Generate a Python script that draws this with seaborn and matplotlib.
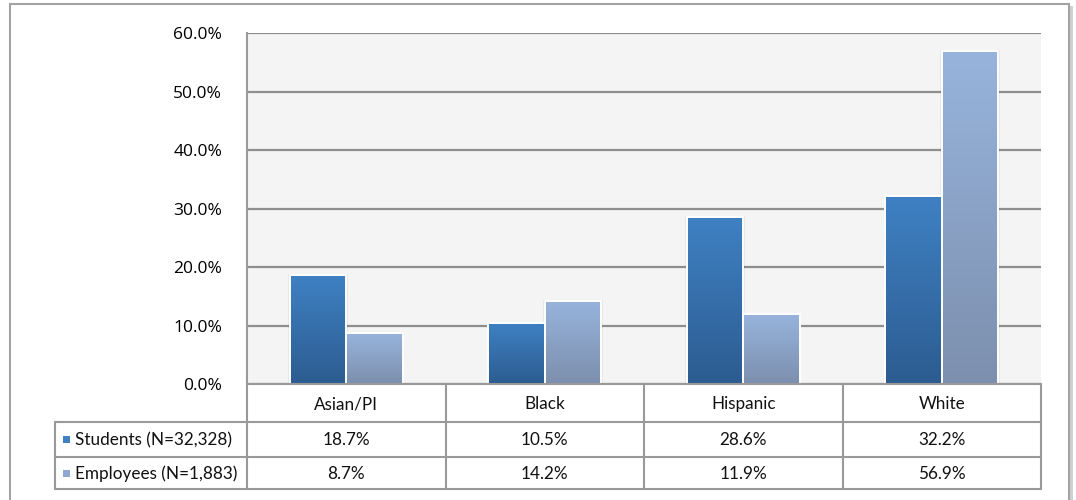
import numpy as np
import pandas as pd
import matplotlib
matplotlib.use("Agg")
import matplotlib.pyplot as plt
import matplotlib.transforms as mtransforms
from matplotlib.lines import Line2D
from matplotlib.patches import Rectangle
import seaborn as sns

# ---- data -------------------------------------------------------------
categories = ["Asian/PI", "Black", "Hispanic", "White"]
series_names = ["Students (N=32,328)", "Employees (N=1,883)"]
students = [18.7, 10.5, 28.6, 32.2]
employees = [8.7, 14.2, 11.9, 56.9]
y_ticks = [0, 10, 20, 30, 40, 50, 60]

df = pd.DataFrame({
    "category": categories * 2,
    "group": [series_names[0]] * 4 + [series_names[1]] * 4,
    "value": students + employees,
})

# ---- style ------------------------------------------------------------
sns.set_theme(style="white")
plt.rcParams["font.family"] = ["Open Sans", "DejaVu Sans"]
table_font = ["Lato", "DejaVu Sans"]

W, H = 1076, 500
fig = plt.figure(figsize=(W / 100, H / 100), dpi=100)
fig.patch.set_facecolor("white")


def fx(x):
    return x / W


def fy(y):
    return 1 - y / H


# plot region in pixel terms
L, R, T, B = 247, 1041, 33, 384
ax = fig.add_axes([fx(L), fy(B), fx(R) - fx(L), fy(T) - fy(B)])
ax.set_facecolor("#f4f4f4")

top_cols = ["#3f81c4", "#98b4dc"]
bot_cols = ["#2c5c90", "#7c8fae"]

sns.barplot(data=df, x="category", y="value", hue="group",
            hue_order=series_names, order=categories,
            palette=top_cols, saturation=1, width=0.57, gap=0,
            ax=ax, legend=False, zorder=3)

ax.set_xlim(-0.5, 3.5)
ax.set_ylim(0, 60)
ax.set_yticks(y_ticks)
ax.set_yticklabels([f"{t:.1f}%" for t in y_ticks], fontsize=12.5, color="#000000")
ax.tick_params(axis="y", length=0, pad=18)
ax.set_xticks([])
ax.set_xlabel("")
ax.set_ylabel("")
ax.yaxis.grid(True, color="#8e8e8e", linewidth=1.6, zorder=1)
ax.set_axisbelow(True)
for side in ["top", "right", "bottom"]:
    ax.spines[side].set_visible(False)
ax.spines["left"].set_color("#9a9a9a")
ax.spines["left"].set_linewidth(1.5)

# vertical gradients on each bar, clipped to the bar shape
for ci, cont in enumerate(ax.containers):
    c_top = np.array(matplotlib.colors.to_rgb(top_cols[ci]))
    c_bot = np.array(matplotlib.colors.to_rgb(bot_cols[ci]))
    for patch in cont.patches:
        x0, y0 = patch.get_x(), patch.get_y()
        w, h = patch.get_width(), patch.get_height()
        t = np.linspace(0, 1, 256)[:, None]
        grad = (c_top[None, :] * (1 - t) + c_bot[None, :] * t)[:, None, :]
        # faint shadow along the bar sides
        shadow = Rectangle((x0 - 0.008, y0), w + 0.016, h + 0.15,
                           facecolor="#000000", alpha=0.05,
                           edgecolor="none", zorder=2.5)
        ax.add_patch(shadow)
        im = ax.imshow(grad, extent=[x0, x0 + w, y0, y0 + h],
                       aspect="auto", origin="upper", zorder=3.5,
                       interpolation="bilinear")
        im.set_clip_path(patch)
        patch.set_edgecolor("white")
        patch.set_linewidth(1.2)
        edge = Rectangle((x0, y0), w, h, facecolor="none",
                         edgecolor="white", linewidth=1.4, zorder=4)
        ax.add_patch(edge)

ax.set_xlim(-0.5, 3.5)
ax.set_ylim(0, 60)

# ---- data table -------------------------------------------------------
line_c = "#999999"
lw = 1.5
blend = mtransforms.blended_transform_factory(ax.transData, fig.transFigure)

row_h = [384, 422, 457, 489]
fig.add_artist(Line2D([fx(L), fx(R)], [fy(384), fy(384)], color=line_c, lw=lw))
for yy in row_h[1:]:
    fig.add_artist(Line2D([fx(55), fx(R)], [fy(yy), fy(yy)], color=line_c, lw=lw))
fig.add_artist(Line2D([fx(55), fx(55)], [fy(422), fy(489)], color=line_c, lw=lw))
fig.add_artist(Line2D([fx(L), fx(L)], [fy(384), fy(489)], color=line_c, lw=lw))
for k in range(1, len(categories) + 1):
    xb = k - 0.5
    fig.add_artist(Line2D([xb, xb], [fy(384), fy(489)], color=line_c, lw=lw,
                          transform=blend))

txt_c = "#111111"
fs_tab = 12.3
for i, cat in enumerate(categories):
    fig.text(i, fy(404), cat, transform=blend, ha="center", va="center",
             fontsize=fs_tab, family=table_font, color=txt_c)
    fig.text(i, fy(440), f"{students[i]:.1f}%", transform=blend,
             ha="center", va="center", fontsize=fs_tab, family=table_font,
             color=txt_c)
    fig.text(i, fy(474), f"{employees[i]:.1f}%", transform=blend,
             ha="center", va="center", fontsize=fs_tab, family=table_font,
             color=txt_c)

# legend keys and row labels
key_cols = [top_cols[0], "#8ea8cf"]
for j, (name, yc) in enumerate(zip(series_names, [440, 474])):
    fig.add_artist(Rectangle((fx(63), fy(yc + 3)), fx(7), fy(0) - fy(7),
                             facecolor=key_cols[j], edgecolor="none"))
    fig.text(fx(75), fy(yc), name, ha="left", va="center", fontsize=fs_tab,
             family=table_font, color=txt_c)

# ---- outer frame with a soft shadow -----------------------------------
fig.add_artist(Rectangle((fx(1069), fy(505)), fx(4), fy(6) - fy(505),
                         facecolor="#d0d0d0", edgecolor="none"))
fig.add_artist(Rectangle((fx(10), fy(505)), fx(1059), fy(4) - fy(505),
                         facecolor="none", edgecolor="#a3a3a3", linewidth=1.5))

fig.savefig("out.png", dpi=100, facecolor="white")
